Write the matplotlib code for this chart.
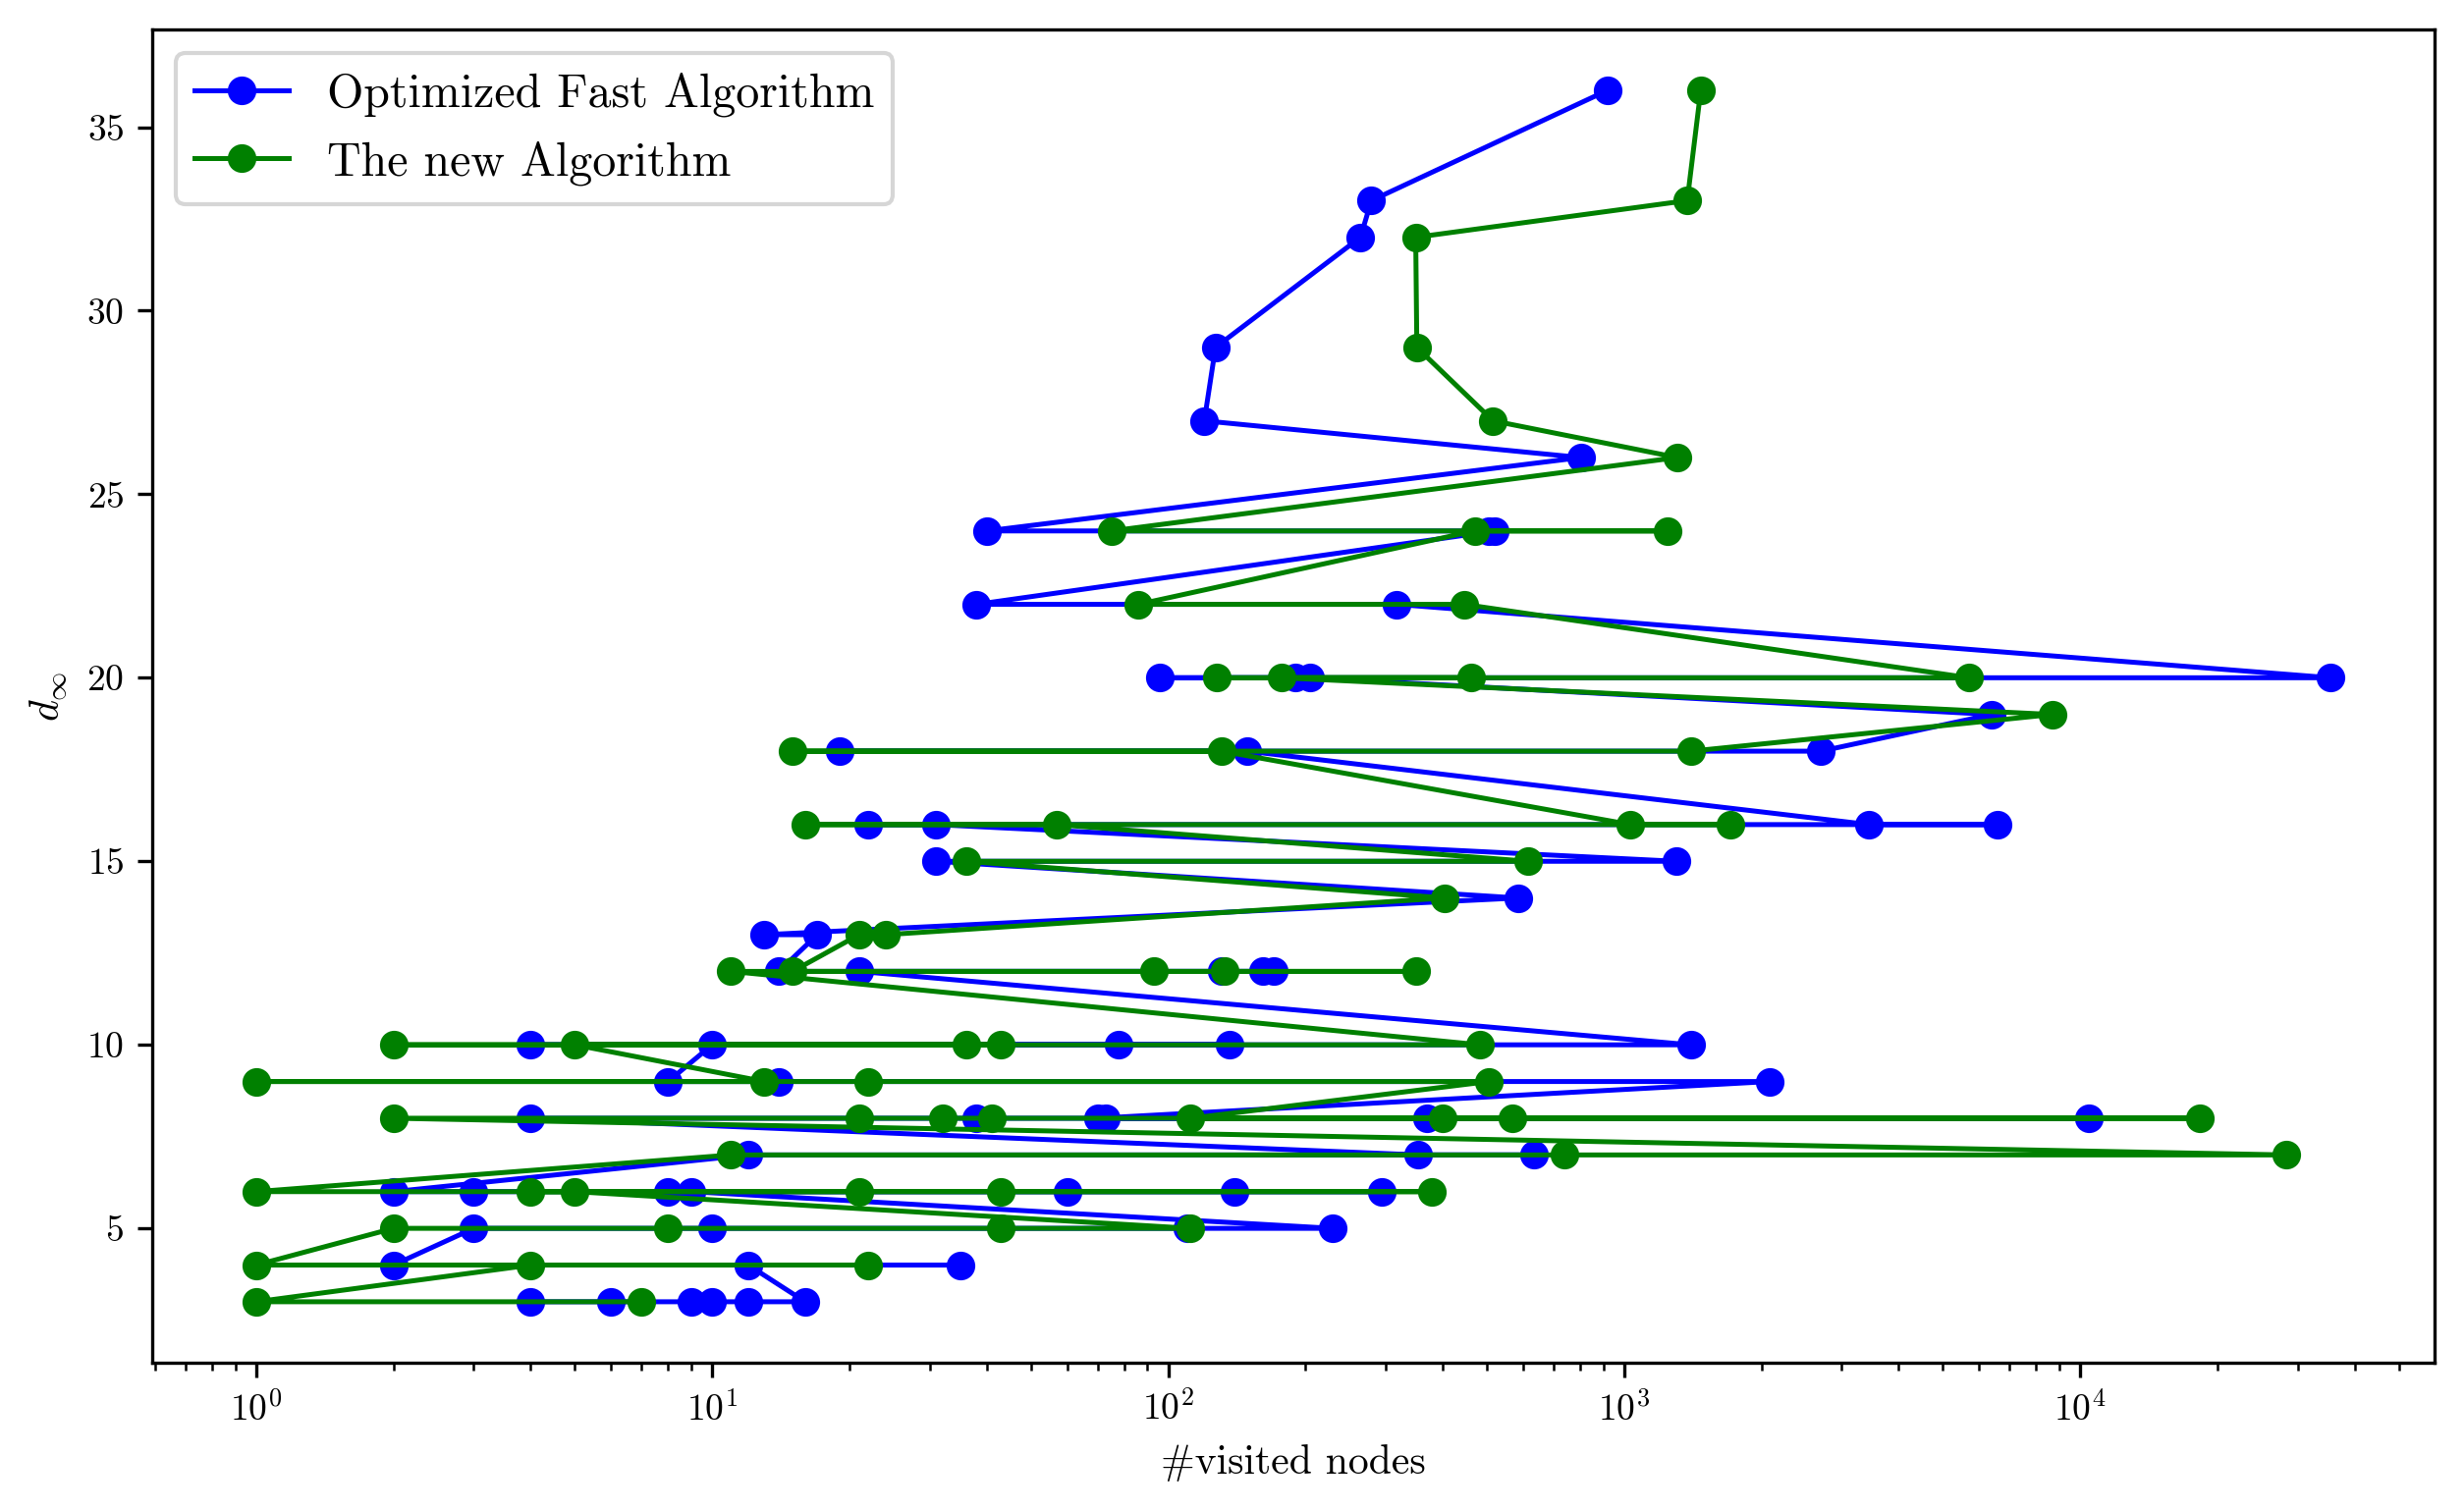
import numpy as np
import matplotlib
matplotlib.use("Agg")
import matplotlib.pyplot as plt

# d_inf levels (top to bottom, in the order the instances were run)
levels = [36, 33, 32, 29, 27, 26, 24, 22, 20, 19, 18, 16, 15, 14, 13, 12,
          10, 9, 8, 7, 6, 5, 4, 3]

# visited nodes per level, in visiting order
fast_nodes = [
    [918], [279], [264], [127], [120], [804],
    [40, 505, 521],
    [38, 317],
    [35400, 96, 190, 205],
    [6400],
    [2700, 19, 149],
    [3445, 6600, 22, 31],
    [1300, 31],
    [585],
    [13, 17],
    [14, 131, 161, 170, 21],
    [1400, 4, 78, 136, 10],
    [8, 14, 2085],
    [70, 73, 370, 10440, 38, 4],
    [354, 635, 12],
    [2, 3, 294, 140, 60, 8, 9],
    [229, 110, 10, 3],
    [2, 35, 12],
    [16, 12, 10, 9, 6, 4],
]

new_nodes = [
    [1472], [1375], [349], [351], [516], [1309],
    [75, 1243, 470],
    [86, 445],
    [5700, 128, 462, 177],
    [8700],
    [1400, 15, 131],
    [1033, 1710, 16, 57],
    [616, 36],
    [404],
    [24, 21],
    [15, 93, 133, 349, 11],
    [483, 2, 36, 43, 5],
    [13, 1, 22, 505],
    [112, 400, 570, 18300, 41, 32, 21, 2],
    [28300, 741, 11],
    [1, 21, 43, 378, 4, 5],
    [112, 43, 8, 2],
    [1, 22, 4],
    [1, 7],
]


def flatten(nodes):
    xs, ys = [], []
    for lvl, row in zip(levels, nodes):
        for v in row:
            xs.append(v)
            ys.append(lvl)
    return np.array(xs), np.array(ys)


plt.rcParams['font.family'] = 'serif'
plt.rcParams['font.serif'] = ['cmr10', 'DejaVu Serif']
plt.rcParams['mathtext.fontset'] = 'cm'
plt.rcParams['axes.formatter.use_mathtext'] = True


def main():
    fig = plt.figure(figsize=(2509 / 300, 1538 / 300), dpi=300)
    ax = fig.add_axes([0.0619, 0.0978, 0.926, 0.8824])

    x1, y1 = flatten(fast_nodes)
    x2, y2 = flatten(new_nodes)
    ax.plot(x1, y1, "o-", color="b", lw=1.2, ms=6, label="Optimized Fast Algorithm")
    ax.plot(x2, y2, "o-", color="g", lw=1.2, ms=6, label="The new Algorithm")

    ax.set_xscale("log")
    ax.set_xlabel("#visited nodes", fontsize=10)
    ax.set_ylabel(r"$d_\infty$", fontsize=10)
    ax.tick_params(labelsize=9)
    ax.legend(loc="upper left", fontsize=11.5)

    fig.savefig("out.png", dpi=300)


if __name__ == "__main__":
    main()
